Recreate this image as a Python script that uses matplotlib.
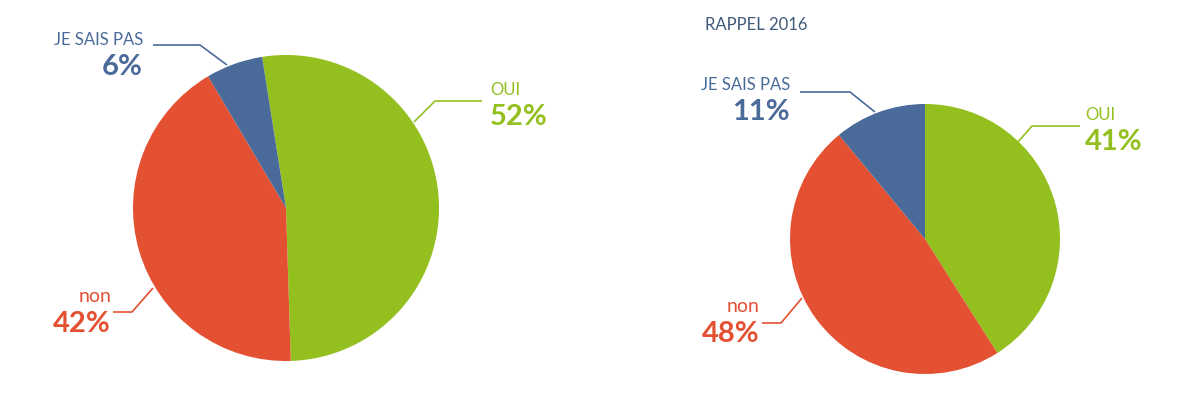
import matplotlib.pyplot as plt

LABELS = ["OUI", "non", "JE SAIS PAS"]
VALUES_NOW = [52, 42, 6]
VALUES_2016 = [41, 48, 11]
COLORS = ["#93c01f", "#e35032", "#4a6b9a"]
TITLE_2016 = "RAPPEL 2016"

FONT = "Lato"


def label(ax, name, pct, x, y, color, ha, line):
    size = 14 if name.islower() else 12
    ax.text(x, y, name, color=color, ha=ha, va="center", fontsize=size,
            family=FONT)
    ax.text(x, y + 27, f"{pct}%", color=color, ha=ha, va="center",
            fontsize=21, fontweight="bold", family=FONT)
    xs, ys = zip(*line)
    ax.plot(xs, ys, color=color, lw=1.2, solid_capstyle="butt")


fig = plt.figure(figsize=(12, 4.01), dpi=100)
ax = fig.add_axes([0, 0, 1, 1])

# pies are drawn clockwise; y axis is flipped so counterclock=True looks clockwise
ax.pie(VALUES_NOW, colors=COLORS, center=(286, 208), radius=153,
       startangle=-99, counterclock=True, frame=True,
       wedgeprops=dict(linewidth=0))
ax.pie(VALUES_2016, colors=COLORS, center=(925, 239), radius=135,
       startangle=-90, counterclock=True, frame=True,
       wedgeprops=dict(linewidth=0))
ax.set_xlim(0, 1200)
ax.set_ylim(401, 0)
ax.set_aspect("equal")
ax.axis("off")

label(ax, LABELS[2], VALUES_NOW[2], 143, 40, COLORS[2], "right",
      [(153, 45), (200, 45), (227, 65)])
label(ax, LABELS[0], VALUES_NOW[0], 490, 90, COLORS[0], "left",
      [(482, 101), (435, 101), (414, 122)])
label(ax, LABELS[1], VALUES_NOW[1], 111, 297, COLORS[1], "right",
      [(113, 312), (132, 312), (153, 288)])

ax.text(705, 25, TITLE_2016, color="#3f5a7a", ha="left", va="center",
        fontsize=12, family=FONT)
label(ax, LABELS[2], VALUES_2016[2], 790, 85, COLORS[2], "right",
      [(800, 92), (850, 92), (875, 112)])
label(ax, LABELS[0], VALUES_2016[0], 1085, 115, COLORS[0], "left",
      [(1080, 126), (1032, 126), (1018, 142)])
label(ax, LABELS[1], VALUES_2016[1], 760, 307, COLORS[1], "right",
      [(762, 323), (781, 323), (802, 298)])

fig.savefig("out.png", dpi=100, facecolor="white")
